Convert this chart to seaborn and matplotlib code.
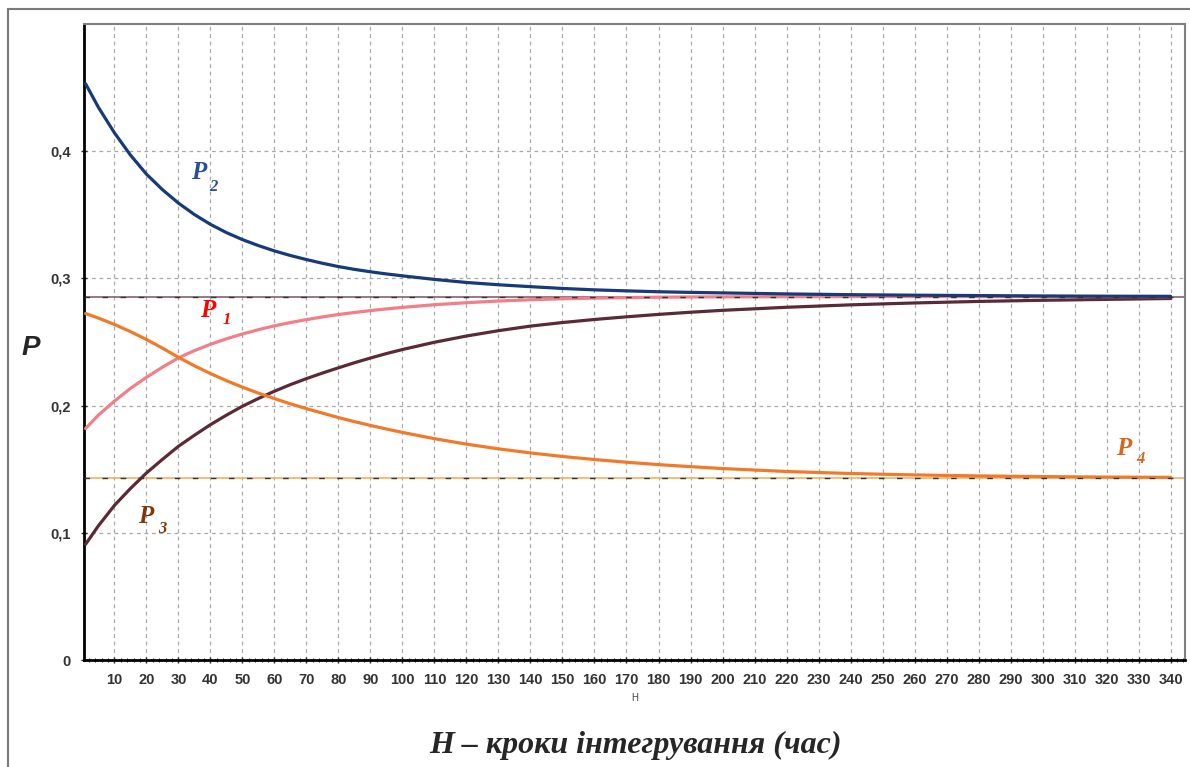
import matplotlib
matplotlib.use("Agg")
import matplotlib.pyplot as plt
from matplotlib.lines import Line2D
from matplotlib.ticker import MultipleLocator
import seaborn as sns

# steps of integration H and state probabilities
h = [1, 5, 10, 15, 20, 25, 30, 35, 40, 45, 50, 55, 60, 65, 70, 75, 80, 85, 90,
     95, 100, 110, 120, 130, 140, 150, 160, 170, 180, 190, 200,
     220, 240, 260, 280, 300, 320, 340]
p1 = [0.182, 0.1925, 0.2035, 0.2135, 0.2222, 0.2302, 0.2375, 0.2432, 0.2482,
      0.2525, 0.2563, 0.2597, 0.2627, 0.2653, 0.2676, 0.2697, 0.2716, 0.2732,
      0.2747, 0.276, 0.2772, 0.2793, 0.2809, 0.2822, 0.2832, 0.284, 0.2845,
      0.2849, 0.2852, 0.2854, 0.2855, 0.2856, 0.2857, 0.2857, 0.2857, 0.2857,
      0.2857, 0.2857]
p2 = [0.453, 0.4345, 0.4145, 0.397, 0.382, 0.3698, 0.3592, 0.3502, 0.3425,
      0.336, 0.3305, 0.3258, 0.3216, 0.318, 0.3148, 0.3119, 0.3093, 0.3071,
      0.3052, 0.3035, 0.302, 0.2992, 0.2968, 0.295, 0.2935, 0.2921, 0.291,
      0.2902, 0.2895, 0.289, 0.2886, 0.2878, 0.2872, 0.2868, 0.2865, 0.2862,
      0.286, 0.2859]
p3 = [0.091, 0.1055, 0.1215, 0.1348, 0.147, 0.1577, 0.168, 0.1767, 0.185,
      0.1925, 0.1995, 0.2056, 0.2113, 0.2165, 0.2212, 0.2256, 0.2297, 0.2337,
      0.2374, 0.2409, 0.2441, 0.2498, 0.2547, 0.2589, 0.2625, 0.2653, 0.2677,
      0.2698, 0.2717, 0.2734, 0.2749, 0.2773, 0.2792, 0.2807, 0.2819, 0.2828,
      0.2835, 0.2842]
p4 = [0.2724, 0.2688, 0.2638, 0.2582, 0.252, 0.2452, 0.238, 0.2313, 0.2252,
      0.2196, 0.2145, 0.2098, 0.2055, 0.2014, 0.1976, 0.1941, 0.1906, 0.1874,
      0.1844, 0.1816, 0.1789, 0.174, 0.1697, 0.166, 0.1628, 0.16, 0.1576,
      0.1555, 0.1536, 0.152, 0.1505, 0.1482, 0.1466, 0.1455, 0.1447, 0.1442,
      0.1438, 0.1436]
# stationary levels
p_limit = [0.2857, 0.1429]
x_ticks = list(range(10, 341, 10))
y_ticks = [0, 0.1, 0.2, 0.3, 0.4]
y_labels = ["0", "0,1", "0,2", "0,3", "0,4"]

sns.set_style("white")
plt.rcParams['font.family'] = ['Liberation Sans Narrow', 'Liberation Sans', 'DejaVu Sans']

fig = plt.figure(figsize=(11.9, 7.67), dpi=100)
ax = fig.add_axes([84 / 1190, 1 - 660 / 767, 1101 / 1190, 636 / 767])

# reference levels
ax.axhline(p_limit[0], color="#8a6070", lw=1.2, zorder=2)
ax.axhline(p_limit[1], color="#f2b060", lw=1.2, zorder=2)

series = [
    (p3, "#5a2a36"),
    (p1, "#f07f88"),
    (p4, "#f07a2a"),
    (p2, "#173a78"),
]
for vals, col in series:
    sns.lineplot(x=h, y=vals, color=col, lw=2.3, ax=ax, zorder=3)

for lvl in p_limit:
    ax.axhline(lvl, color="#333333", lw=1.0, ls=(0, (4, 9)), zorder=4)

ax.set_xlim(0.5, 344.5)
ax.set_ylim(0, 0.5)
ax.set_xticks(x_ticks)
ax.set_xticklabels([str(t) for t in x_ticks])
ax.xaxis.set_minor_locator(MultipleLocator(2))
ax.set_yticks(y_ticks)
ax.set_yticklabels(y_labels)
ax.grid(True, which="major", color="#a8a8a8", ls=(0, (3, 3)), lw=0.9)
ax.tick_params(axis="both", which="major", direction="inout", length=5,
               width=1, labelsize=10.5, labelcolor="#333333", pad=7)
ax.tick_params(axis="x", which="minor", direction="inout", length=3,
               width=0.8, bottom=True)
ax.tick_params(axis="x", which="major", bottom=True)
ax.tick_params(axis="y", which="major", left=True)
for lab in ax.get_xticklabels() + ax.get_yticklabels():
    lab.set_fontweight("bold")

for side in ["left", "bottom"]:
    ax.spines[side].set_color("black")
    ax.spines[side].set_linewidth(2)
for side in ["top", "right"]:
    ax.spines[side].set_color("#808080")
    ax.spines[side].set_linewidth(1.5)

ax.set_xlabel("H", fontsize=7, color="#444444", labelpad=4)
ax.set_ylabel("")

# curve labels
serif = dict(family="Liberation Serif", fontweight="bold", style="italic",
             va="baseline", ha="left")
labels = [
    ("2", 34.0, 0.378, 39.5, 0.369, "#2a4f9a"),
    ("1", 36.8, 0.270, 43.7, 0.264, "#ff0000"),
    ("3", 17.5, 0.108, 23.7, 0.100, "#7a3b0c"),
    ("4", 323.1, 0.1614, 329.4, 0.155, "#d2691e"),
]
for sub, xp, yp, xs, ys, col in labels:
    ax.text(xp, yp, "P", fontsize=18, color=col, zorder=5, **serif)
    ax.text(xs, ys, sub, fontsize=12, color=col, zorder=5, **serif)

fig.text(31 / 1190, 1 - 348 / 767, "P", fontsize=20, fontweight="bold",
         style="italic", family="Liberation Sans", ha="center", va="center")
fig.text(635 / 1190, 1 - 745 / 767, "H – кроки інтегрування (час)",
         fontsize=23, fontweight="bold", style="italic",
         family="Liberation Serif", ha="center", va="center")

# outer frame
fig.add_artist(Line2D([8 / 1190, 8 / 1190], [0, 1 - 9 / 767],
                      color="#7a7a7a", lw=1.5))
fig.add_artist(Line2D([8 / 1190, 1], [1 - 9 / 767, 1 - 9 / 767],
                      color="#7a7a7a", lw=1.5))

fig.savefig("out.png", dpi=100)
